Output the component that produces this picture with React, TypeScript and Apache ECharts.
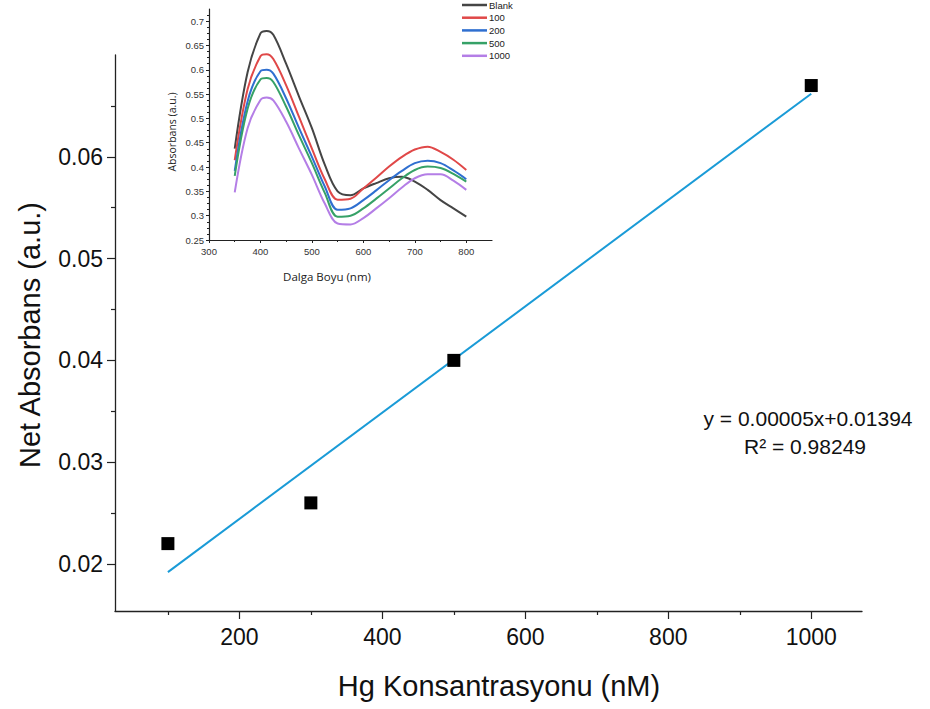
import React, { useEffect, useRef } from "react";
import * as echarts from "echarts";

// ---- Main calibration data ----
const concX = [100, 300, 500, 1000];
const netAbs = [0.022, 0.026, 0.04, 0.067];
const fitX = [100, 1000];
const fitY = [0.0192, 0.0662];
const mainYTicks = [0.02, 0.03, 0.04, 0.05, 0.06];
const mainYMinor = [0.025, 0.035, 0.045, 0.055, 0.065];
const mainXTicks = [200, 400, 600, 800, 1000];
const mainXMinor = [100, 300, 500, 700, 900];
const eqText = "y = 0.00005x+0.01394";
const r2Text = "R\u00B2 = 0.98249";

// ---- Inset spectra ----
const wavelengths = [350, 375, 400, 412, 425, 450, 475, 500, 525, 550, 575, 600, 625, 650, 675, 700, 725, 750, 775, 800];
const blank = [0.438, 0.595, 0.675, 0.68, 0.672, 0.612, 0.545, 0.48, 0.405, 0.35, 0.342, 0.356, 0.367, 0.377, 0.38, 0.37, 0.353, 0.332, 0.315, 0.298];
const c100 = [0.414, 0.56, 0.628, 0.632, 0.622, 0.568, 0.503, 0.438, 0.375, 0.333, 0.335, 0.356, 0.378, 0.401, 0.421, 0.436, 0.442, 0.431, 0.415, 0.394];
const c200 = [0.392, 0.535, 0.597, 0.6, 0.592, 0.541, 0.48, 0.421, 0.36, 0.312, 0.315, 0.332, 0.352, 0.373, 0.392, 0.408, 0.413, 0.408, 0.393, 0.375];
const c500 = [0.382, 0.52, 0.58, 0.583, 0.575, 0.524, 0.465, 0.408, 0.347, 0.298, 0.3, 0.315, 0.335, 0.356, 0.377, 0.394, 0.401, 0.398, 0.386, 0.37];
const c1000 = [0.348, 0.48, 0.538, 0.543, 0.537, 0.493, 0.438, 0.384, 0.325, 0.284, 0.282, 0.295, 0.315, 0.336, 0.358, 0.377, 0.385, 0.385, 0.372, 0.353];
const insetNames = ["Blank", "100", "200", "500", "1000"];
const insetColors = ["#454545", "#e04848", "#2f6fd0", "#36a167", "#b47ee6"];
const insetSeries = [blank, c100, c200, c500, c1000];
const insetXTicks = [300, 400, 500, 600, 700, 800];
const insetYTicks = [0.25, 0.3, 0.35, 0.4, 0.45, 0.5, 0.55, 0.6, 0.65, 0.7];

const FONT = "'Liberation Sans', Arial, sans-serif";
const INSET_FONT = "'Open Sans', 'Liberation Sans', sans-serif";

export default function App() {
  const ref = useRef<HTMLDivElement>(null);
  useEffect(() => {
    if (!ref.current) return;
    const chart = echarts.init(ref.current, undefined, { renderer: "svg" });
    const axisColor = "#222";
    const center = { textAlign: "center", textVerticalAlign: "middle", align: "center", verticalAlign: "middle" };

    const legendGraphics: any[] = [];
    insetNames.forEach((name, k) => {
      const y = 5 + 12.7 * k;
      legendGraphics.push({
        type: "line", z: 100,
        shape: { x1: 462, y1: y, x2: 487, y2: y },
        style: { stroke: insetColors[k], lineWidth: 2.5 },
      });
      legendGraphics.push({
        type: "text", x: 489, y, z: 100,
        style: { text: name, font: `9.5px ${FONT}`, fill: "#222", textAlign: "left", textVerticalAlign: "middle", align: "left", verticalAlign: "middle" },
      });
    });

    const option: any = {
      animation: false,
      backgroundColor: "#fff",
      grid: [
        { left: 115, right: 68, top: 55, bottom: 98, containLabel: false },
        { left: 209, right: 438, top: 9, bottom: 469, containLabel: false },
      ],
      xAxis: [
        {
          type: "value", gridIndex: 0, min: 26, max: 1071,
          axisLine: { show: true, lineStyle: { color: axisColor, width: 1.3 } },
          axisTick: { show: true, length: 8, customValues: mainXTicks, lineStyle: { color: axisColor, width: 1.2 } },
          axisLabel: { show: true, customValues: mainXTicks, fontFamily: FONT, fontSize: 23, color: "#111", margin: 14, formatter: (v: number) => String(v) },
          splitLine: { show: false },
        },
        {
          type: "value", gridIndex: 0, min: 26, max: 1071, position: "bottom",
          axisLine: { show: false },
          axisTick: { show: true, length: 4, customValues: mainXMinor, lineStyle: { color: axisColor, width: 1.2 } },
          axisLabel: { show: false },
          splitLine: { show: false },
        },
        {
          type: "value", gridIndex: 1, min: 300, max: 850, interval: 100,
          axisLine: { show: true, lineStyle: { color: axisColor, width: 1.2 } },
          axisTick: { show: true, length: 3, customValues: insetXTicks, lineStyle: { color: axisColor } },
          minorTick: { show: true, splitNumber: 2, length: 2, lineStyle: { color: axisColor } },
          axisLabel: { customValues: insetXTicks, fontFamily: FONT, fontSize: 9.5, color: "#333", margin: 6, formatter: (v: number) => String(v) },
          splitLine: { show: false },
        },
      ],
      yAxis: [
        {
          type: "value", gridIndex: 0, min: 0.01538, max: 0.07,
          axisLine: { show: true, lineStyle: { color: axisColor, width: 1.3 } },
          axisTick: { show: true, length: 8, customValues: mainYTicks, lineStyle: { color: axisColor, width: 1.2 } },
          axisLabel: { show: true, customValues: mainYTicks, fontFamily: FONT, fontSize: 23, color: "#111", margin: 12, formatter: (v: number) => v.toFixed(2) },
          splitLine: { show: false },
        },
        {
          type: "value", gridIndex: 0, min: 0.01538, max: 0.07, position: "left",
          axisLine: { show: false },
          axisTick: { show: true, length: 4, customValues: mainYMinor, lineStyle: { color: axisColor, width: 1.2 } },
          axisLabel: { show: false },
          splitLine: { show: false },
        },
        {
          type: "value", gridIndex: 1, min: 0.25, max: 0.725, interval: 0.05,
          axisLine: { show: true, lineStyle: { color: axisColor, width: 1.2 } },
          axisTick: { show: true, length: 3, customValues: insetYTicks, lineStyle: { color: axisColor } },
          minorTick: { show: true, splitNumber: 4, length: 2, lineStyle: { color: axisColor } },
          axisLabel: { customValues: insetYTicks, fontFamily: FONT, fontSize: 9.5, color: "#333", margin: 5, formatter: (v: number) => String(Math.round(v * 100) / 100) },
          splitLine: { show: false },
        },
      ],
      graphic: [
        {
          type: "text", x: 30, y: 335, rotation: Math.PI / 2,
          style: { text: "Net Absorbans (a.u.)", font: `29px ${FONT}`, fill: "#111", ...center },
        },
        {
          type: "text", x: 499, y: 686,
          style: { text: "Hg Konsantrasyonu (nM)", font: `29px ${FONT}`, fill: "#111", ...center },
        },
        {
          type: "text", x: 808, y: 418,
          style: { text: eqText, font: `21px ${FONT}`, fill: "#111", ...center },
        },
        {
          type: "text", x: 805, y: 446,
          style: { text: r2Text, font: `21px ${FONT}`, fill: "#111", ...center },
        },
        {
          type: "text", x: 172, y: 132, rotation: Math.PI / 2,
          style: { text: "Absorbans (a.u.)", font: `10.5px ${INSET_FONT}`, fill: "#222", ...center },
        },
        {
          type: "text", x: 327, y: 276,
          style: { text: "Dalga Boyu (nm)", font: `11.5px ${INSET_FONT}`, fill: "#222", ...center },
        },
        ...legendGraphics,
      ],
      series: [
        {
          name: "Net Absorbans", type: "scatter", xAxisIndex: 0, yAxisIndex: 0,
          symbol: "rect", symbolSize: 13, itemStyle: { color: "#000", opacity: 1 },
          data: concX.map((x, i) => [x, netAbs[i]]), z: 5,
        },
        {
          name: "Fit", type: "line", xAxisIndex: 0, yAxisIndex: 0,
          showSymbol: false, symbol: "none", lineStyle: { color: "#1a9bd7", width: 2 },
          data: fitX.map((x, i) => [x, fitY[i]]), z: 4,
        },
        ...insetSeries.map((vals, k) => ({
          name: insetNames[k], type: "line", xAxisIndex: 2, yAxisIndex: 2,
          smooth: 0.35, showSymbol: false, symbol: "none",
          color: insetColors[k],
          lineStyle: { color: insetColors[k], width: 2 },
          data: wavelengths.map((w, i) => [w, vals[i]]),
        })),
      ],
    };
    chart.setOption(option);
    return () => chart.dispose();
  }, []);
  return <div ref={ref} style={{ position: "absolute", left: 0, top: 0, width: 930, height: 709 }} />;
}
